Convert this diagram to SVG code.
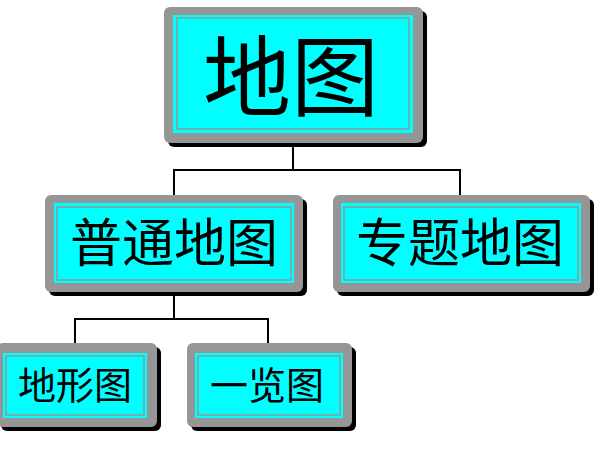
<svg xmlns="http://www.w3.org/2000/svg" width="616" height="458" viewBox="0 0 616 458">
<style>
.sh{fill:#000}
.out{fill:#969696}
.in{fill:#00FFFF}
.ln{fill:none;stroke:#969696;stroke-width:1.5}
.t{font-family:"Noto Sans CJK SC","Noto Sans CJK JP",sans-serif;fill:#000;text-anchor:middle;dominant-baseline:central}
.c{fill:none;stroke:#000;stroke-width:2}
</style>
<rect width="616" height="458" fill="#fff"/>
<g id="connectors">
<path class="c" d="M293,147 V170 M174,170 H460 M174,169 V195 M460,169 V195"/>
<path class="c" d="M174,295 V319 M75,319 H268 M75,318 V343 M268,318 V343"/>
</g>
<g id="n-ditu">
<rect class="sh" x="168" y="11" width="259" height="136" rx="6"/>
<rect class="out" x="164" y="7" width="259" height="136" rx="6"/>
<rect class="in" x="173" y="15" width="240" height="118"/>
<rect class="ln" x="177" y="18" width="232" height="111"/>
<text class="t" x="291" y="70" font-size="88">地图</text>
</g>
<g id="n-putong">
<rect class="sh" x="49" y="199" width="258" height="97" rx="6"/>
<rect class="out" x="45" y="195" width="258" height="97" rx="6"/>
<rect class="in" x="54" y="203" width="240" height="80"/>
<rect class="ln" x="57" y="207" width="234" height="73"/>
<text class="t" x="174" y="239" font-size="52">普通地图</text>
</g>
<g id="n-zhuanti">
<rect class="sh" x="337" y="199" width="257" height="97" rx="6"/>
<rect class="out" x="333" y="195" width="257" height="97" rx="6"/>
<rect class="in" x="341" y="203" width="240" height="80"/>
<rect class="ln" x="344" y="207" width="234" height="73"/>
<text class="t" x="460" y="239" font-size="52">专题地图</text>
</g>
<g id="n-dixing">
<rect class="sh" x="1" y="347" width="160" height="84" rx="6"/>
<rect class="out" x="-3" y="343" width="160" height="84" rx="6"/>
<rect class="in" x="3" y="353" width="144" height="65"/>
<rect class="ln" x="6" y="356" width="138" height="59"/>
<text class="t" x="75" y="382" font-size="38">地形图</text>
</g>
<g id="n-yilan">
<rect class="sh" x="191" y="347" width="165" height="84" rx="6"/>
<rect class="out" x="187" y="343" width="165" height="84" rx="6"/>
<rect class="in" x="195" y="353" width="148" height="65"/>
<rect class="ln" x="198" y="356" width="142" height="59"/>
<text class="t" x="267" y="382" font-size="38">一览图</text>
</g>
</svg>
